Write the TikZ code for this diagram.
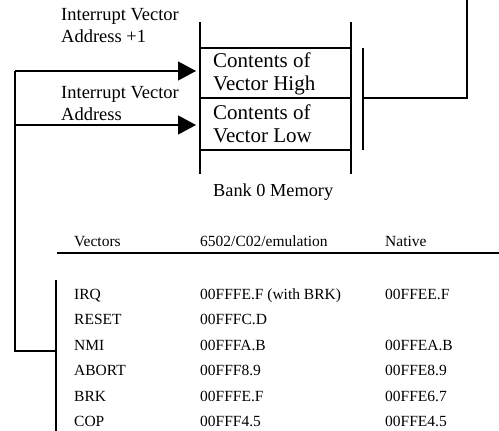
\documentclass[tikz,border=0pt]{standalone}
\usepackage{fontspec}
\setmainfont{Liberation Serif}
\usetikzlibrary{arrows.meta}

\tikzset{
  wire/.style={black, line width=1.2pt},
  bigarrow/.style={wire, -{Triangle[length=18pt,width=19pt]}},
  lbl/.style={anchor=west, inner sep=0pt, align=left, font=\fontsize{18.5}{22}\selectfont},
  cell/.style={anchor=west, inner sep=0pt, align=left, font=\fontsize{21}{23}\selectfont},
  tab/.style={anchor=base west, inner sep=0pt, font=\fontsize{15.5}{18}\selectfont}
}

\begin{document}
\begin{tikzpicture}[x=1pt,y=-1pt]
            \useasboundingbox (0,0) rectangle (499,431);
            % bank 0 memory
            \draw[wire] (200,22) -- (200,174);
            \draw[wire] (351,22) -- (351,174);
            \draw[wire] (200,48) -- (351,48);
            \draw[wire] (200,98) -- (351,98);
            \draw[wire] (200,150) -- (351,150);
            \node[cell] (high) at (213,73.5) {Contents of\\Vector High};
            \node[cell] (low) at (213,124) {Contents of\\Vector Low};
            \node[tab, font=\fontsize{18.3}{20}\selectfont] (bank) at (213,196) {Bank 0 Memory};
            % bracket on the right
            \coordinate (bt) at (363,48);
            \coordinate (bb) at (363,150);
            \coordinate (bm) at (363,98);
            \coordinate (up) at (467,0);
            \draw[wire] (bt) -- (bb);
            \draw[wire] (bm) -| (up);
            % addresses
            \node[lbl] (adrhi) at (61,26) {Interrupt Vector\\Address +1};
            \node[lbl] (adrlo) at (61,103.5) {Interrupt Vector\\Address};
            \coordinate (ahi) at (196,71);
            \coordinate (alo) at (196,125);
            \coordinate (c1) at (15,71);
            \coordinate (c2) at (15,125);
            \coordinate (c3) at (15,351);
            \coordinate (c4) at (56,351);
            \draw[bigarrow] (c1) -- (ahi);
            \draw[bigarrow] (c2) -- (alo);
            \draw[wire] (c1) -- (c3) -- (c4);
            \coordinate (vt) at (56,280);
            \coordinate (vb) at (56,431);
            \draw[wire] (vt) -- (vb);
            % table
            \node[tab] (hvec) at (74,246) {Vectors};
            \node[tab] (hemu) at (200,246) {6502/C02/emulation};
            \node[tab] (hnat) at (385,246) {Native};
            \coordinate (rl) at (57,253);
            \coordinate (rr) at (499,253);
            \draw[wire] (rl) -- (rr);
            \foreach \v/\e/\n [count=\i from 0] in {IRQ/00FFFE.F (with BRK)/00FFEE.F, RESET/00FFFC.D/, NMI/00FFFA.B/00FFEA.B, ABORT/00FFF8.9/00FFE8.9, BRK/00FFFE.F/00FFE6.7, COP/00FFF4.5/00FFE4.5}
            {
              \node[tab] (v\i) at (74,299.5+25.4*\i) {\v};
              \node[tab] (e\i) at (200,299.5+25.4*\i) {\e};
              \node[tab] (n\i) at (385,299.5+25.4*\i) {\n};
            }
        \end{tikzpicture}
\end{document}
